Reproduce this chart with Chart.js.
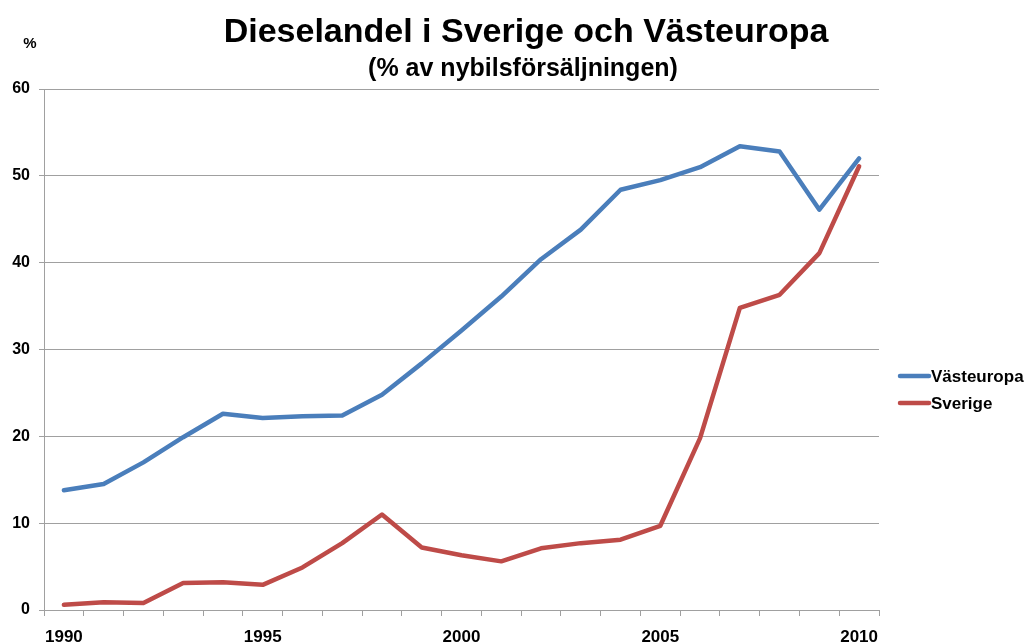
<!DOCTYPE html>
<html>
<head>
<meta charset="utf-8">
<title>Dieselandel i Sverige och Västeuropa</title>
<script src="https://cdn.jsdelivr.net/npm/chart.js@4/dist/chart.umd.min.js"></script>
<style>
  html, body { margin: 0; padding: 0; background: #fff; }
  #wrap { width: 1027px; height: 643px; }
</style>
</head>
<body>
<div id="wrap"><canvas id="c" width="1027" height="643"></canvas></div>
<script>
// ── Data ────────────────────────────────────────────────────────────────────
const years = ['1990', '1991', '1992', '1993', '1994', '1995', '1996', '1997', '1998', '1999',
  '2000', '2001', '2002', '2003', '2004', '2005', '2006', '2007', '2008', '2009', '2010'];
const vasteuropa = [13.8, 14.5, 17.0, 19.9, 22.6, 22.1, 22.3, 22.4, 24.8, 28.4,
  32.2, 36.1, 40.4, 43.8, 48.4, 49.5, 51.0, 53.4, 52.8, 46.1, 52.0];
const sverige = [0.6, 0.9, 0.8, 3.1, 3.2, 2.9, 4.9, 7.7, 11.0, 7.2,
  6.3, 5.6, 7.1, 7.7, 8.1, 9.7, 19.8, 34.8, 36.3, 41.1, 51.1];
const yTicks = [0, 10, 20, 30, 40, 50, 60];

const titleText = 'Dieselandel i Sverige och Västeuropa';
const subtitleText = '(% av nybilsförsäljningen)';

const FONT = "'Liberation Sans', Arial, Helvetica, sans-serif";
const GRID = '#a0a0a0';

Chart.defaults.font.family = FONT;
Chart.defaults.color = '#000';

// ── Titles, unit label and legend drawn on top ──────────────────────────────
const decor = {
  id: 'decor',
  afterDraw(chart) {
    const ctx = chart.ctx;
    ctx.save();
    ctx.fillStyle = '#000';
    ctx.textAlign = 'center';
    ctx.textBaseline = 'middle';
    ctx.font = `bold 34px ${FONT}`;
    ctx.fillText(titleText, 526, 33);
    ctx.font = `bold 25px ${FONT}`;
    ctx.fillText(subtitleText, 523, 69);
    ctx.font = `bold 15px ${FONT}`;
    ctx.fillText('%', 30, 44);

    // legend
    const rows = [376, 403];
    chart.data.datasets.forEach((ds, i) => {
      const y = rows[i];
      ctx.strokeStyle = ds.borderColor;
      ctx.lineWidth = 4.5;
      ctx.lineCap = 'round';
      ctx.beginPath();
      ctx.moveTo(900, y);
      ctx.lineTo(929, y);
      ctx.stroke();
      ctx.textAlign = 'left';
      ctx.font = `bold 17px ${FONT}`;
      ctx.fillText(ds.label, 931, y + 1);
    });
    ctx.restore();
  }
};

// ── Chart ───────────────────────────────────────────────────────────────────
new Chart(document.getElementById('c'), {
  type: 'line',
  data: {
    labels: years,
    datasets: [
      {
        label: 'Västeuropa',
        data: vasteuropa,
        borderColor: '#4a7ebb',
        borderWidth: 4.5,
        pointRadius: 0,
        tension: 0,
        borderCapStyle: 'round',
        borderJoinStyle: 'round',
        fill: false
      },
      {
        label: 'Sverige',
        data: sverige,
        borderColor: '#be4b48',
        borderWidth: 4.5,
        pointRadius: 0,
        tension: 0,
        borderCapStyle: 'round',
        borderJoinStyle: 'round',
        fill: false
      }
    ]
  },
  options: {
    responsive: false,
    animation: false,
    layout: { padding: { top: 89, right: 148, left: 0, bottom: 0 } },
    plugins: {
      legend: { display: false },
      title: { display: false },
      tooltip: { enabled: false }
    },
    scales: {
      x: {
        type: 'category',
        offset: true,
        grid: {
          offset: true,
          drawOnChartArea: false,
          drawTicks: true,
          tickLength: 6,
          color: GRID
        },
        border: { color: GRID, width: 1 },
        ticks: {
          autoSkip: false,
          maxRotation: 0,
          padding: 11,
          font: { size: 17, weight: 'bold' },
          color: '#000',
          callback(v) {
            const l = this.getLabelForValue(v);
            return Number(l) % 5 === 0 ? l : '';
          }
        },
        afterFit(scale) { scale.height = 33; }
      },
      y: {
        min: 0,
        max: 60,
        afterBuildTicks(scale) { scale.ticks = yTicks.map(v => ({ value: v })); },
        grid: { color: GRID, tickLength: 5, drawTicks: true },
        border: { color: GRID, width: 1 },
        ticks: {
          padding: 9,
          font: { size: 16, weight: 'bold' },
          color: '#000'
        },
        afterFit(scale) { scale.width = 44; }
      }
    }
  },
  plugins: [decor]
});
</script>
</body>
</html>
